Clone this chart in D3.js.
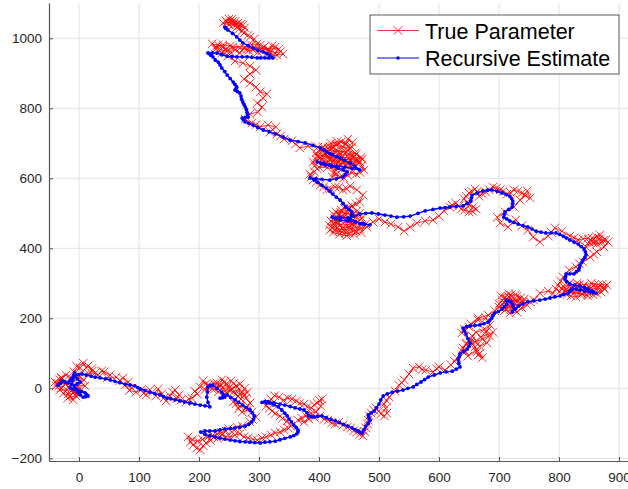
<!DOCTYPE html>
<html>
<head>
<meta charset="utf-8">
<script src="https://cdn.jsdelivr.net/npm/d3@7/dist/d3.min.js"></script>
<style>
  body { margin: 0; background: #fff; }
  svg { display: block; font-family: "Liberation Sans", Arial, sans-serif; }
</style>
</head>
<body>
<div id="chart"></div>
<script>
// Data
const seriesNames = ["True Parameter", "Recursive Estimate"];
const xTicks = [0, 100, 200, 300, 400, 500, 600, 700, 800, 900];
const yTicks = [-200, 0, 200, 400, 600, 800, 1000];

// true parameter path [x, y]
const trueParam = [
  [-32,24],[-38,7],[-28,29],[-36,15],[-22,12],[-30,2],[-32,-5],[-20,-5],[-26,-14],[-15,-22],
  [-10,-33],[-19,-28],[-5,-22],[-13,-7],[-8,-11],[0,-18],[2,1],[-6,9],[10,7],[4,16],
  [8,24],[-1,29],[-2,38],[-14,30],[-22,38],[-30,30],[-40,18],[-34,6],[-26,20],[-18,4],
  [-10,-2],[-4,-14],[-18,-16],[-9,48],[2,58],[-4,63],[7,72],[12,59],[15,64],[21,56],
  [22,49],[16,41],[27,44],[32,38],[38,50],[42,47],
  [52,38],[47,30],[62,32],[68,22],[73,29],[82,18],[77,9],[88,1],[84,-6],[95,-11],
  [103,-5],[108,-14],[112,-19],[118,-4],[122,-11],[128,-22],[132,-2],[138,-16],[142,-27],[145,-36],
  [152,-22],[156,-11],[160,-5],[167,-19],[163,-30],[170,-33],[178,-39],[183,-30],[188,-28],[197,-16],
  [193,-8],
  [202,4],[207,21],[211,12],[215,9],[210,-4],[222,-2],[218,8],[225,14],[230,15],[234,4],
  [238,24],[243,19],[245,12],[249,1],[253,21],[258,14],[262,7],[250,-6],[240,2],[232,-10],
  [226,-2],[236,10],[246,-14],[255,-2],[268,12],[276,0],[280,-12],[268,-18],[267,-2],[257,-11],
  [261,-17],[265,-22],[270,-31],[272,-11],[276,-19],[278,-28],[285,-42],[281,-49],[278,-56],[268,-51],
  [262,-44],[257,-39],[266,-59],[272,-68],[281,-62],[288,-68],[295,-82],[289,-89],[285,-96],
  [272,-108],[264,-111],[258,-119],[249,-115],[245,-122],[237,-127],[230,-131],[222,-136],[215,-139],[206,-146],
  [198,-151],[189,-147],[182,-139],[186,-153],[190,-162],[196,-171],[202,-176],[207,-164],[212,-156],[219,-149],
  [225,-139],[231,-143],[238,-133],[245,-138],[252,-139],[260,-134],[268,-130],[275,-139],[282,-142],[290,-146],
  [297,-148],[305,-142],[312,-139],[320,-133],[327,-128],[335,-125],[342,-119],[349,-114],[353,-108],
  [347,-93],[339,-86],[335,-79],[327,-72],[322,-65],[317,-57],[312,-51],[316,-41],[320,-31],[326,-21],
  [333,-25],[341,-34],[348,-28],[355,-31],[362,-36],[368,-43],[375,-45],[381,-53],[387,-56],[392,-47],
  [397,-42],[401,-35],[405,-31],[403,-51],[395,-68],[387,-71],[378,-79],[371,-85],[365,-91],[375,-96],
  [383,-88],[392,-83],[402,-79],[409,-88],[415,-91],[421,-99],[427,-102],[433,-97],[440,-105],[447,-111],
  [453,-113],[458,-121],[463,-125],[468,-131],[473,-136],[476,-124],[478,-113],[481,-102],[482,-91],[484,-79],
  [487,-71],[491,-62],[495,-56],[499,-66],[503,-73],[509,-79],[513,-71],[511,-57],[508,-45],[513,-35],
  [517,-25],
  [527,-8],[533,9],[538,16],[542,24],[550,41],[557,58],[567,61],[572,54],[578,52],[590,47],
  [596,56],[600,61],[610,52],[620,67],[626,77],[630,87],[638,107],[645,127],[653,135],[660,118],
  [663,104],[665,95],[672,87],[668,99],[662,109],[648,92],[644,105],[640,115],[646,129],[652,141],
  [660,132],[672,140],[684,150],[675,168],[662,160],[655,150],[668,120],[680,130],[690,160],
  [670,147],[676,157],[680,164],[685,181],[678,201],[665,195],[653,184],[642,169],[638,158],[650,175],
  [665,201],[682,209],[693,221],[700,241],
  [705,251],[710,258],[703,264],[716,270],[720,267],[713,255],[728,250],[719,241],[722,229],[714,236],
  [709,222],[726,224],[733,232],[725,245],[736,258],[730,263],[740,246],[732,250],[718,258],[708,246],
  [700,232],[712,226],[724,236],[735,242],[742,255],[728,268],[716,262],[706,240],[718,214],[730,218],
  [738,230],[747,238],[752,247],[758,252],[768,272],
  [782,278],[790,271],[795,284],[801,276],[807,292],[812,282],[818,301],[822,290],[828,284],[834,296],
  [840,289],[846,279],[852,284],[858,294],[865,289],[872,297],[880,295],[876,283],[870,275],[863,271],
  [857,267],[849,271],[842,275],[836,266],[828,261],[820,264],[813,267],[822,278],[830,292],[815,296],
  [826,284],[838,280],[850,290],[862,282],[874,288],[866,296],[854,300],[842,295],[830,300],[820,286],
  [810,278],[824,272],[838,270],[848,264],
  [805,284],[798,295],[803,306],[807,318],
  [817,338],[828,347],[834,356],[840,361],[852,375],[858,383],[863,390],[875,404],[882,418],[874,423],
  [868,427],[862,420],[857,415],[845,404],[850,418],[855,429],[862,433],[868,438],[878,424],[871,418],
  [863,412],[855,421],[848,429],[840,427],[832,424],[825,430],[818,435],[805,449],[793,458],[787,446],
  [782,435],[768,418],[757,432],[748,452],[738,464],[728,481],[715,461],[702,472],[697,489],[710,504],
  [725,518],[735,538],
  [747,564],[752,544],[744,551],[738,558],[731,563],[725,567],[719,559],[713,555],[707,563],[702,567],
  [696,572],[690,575],[684,567],[678,561],[672,556],[667,549],[663,561],[660,569],[655,562],[650,558],
  [645,549],[642,541],[647,532],[650,524],[657,518],[662,512],[656,506],[650,504],[643,509],[637,512],
  [633,521],[628,529],[622,523],[618,518],[608,507],[600,492],[590,481],[577,478],[563,472],[552,461],
  [542,449],[532,461],[520,469],[510,475],[500,484],[490,475],[480,461],
  [468,455],[462,449],[457,449],[450,443],[445,444],[438,447],[433,449],[427,454],[422,458],[417,466],
  [424,470],[428,475],[435,481],[440,487],[446,480],[452,473],[458,467],[450,461],[441,459],[435,465],
  [429,490],[434,496],[428,504],[437,509],[442,515],[449,518],[455,521],[448,510],[443,500],[456,497],
  [462,505],[468,500],[462,490],[450,485],[438,492],[426,486],[420,478],[432,470],[444,466],[456,470],
  [466,478],[472,486],[460,494],[448,500],[436,503],[424,497],[430,458],[442,452],[455,457],[467,462],
  [478,470],[470,445],[458,440],[446,436],[434,440],[424,446],[418,452],
  [455,521],[462,527],[468,532],[473,552],
  [463,567],[452,578],[446,570],[440,567],[433,574],[427,575],[419,570],[413,567],[408,576],[402,581],
  [395,588],[390,595],[387,604],[385,612],[392,619],[397,627],[393,636],[390,647],[396,653],[402,658],
  [397,664],[395,672],[401,677],[407,681],[415,686],[423,689],[430,697],[437,704],[444,697],[448,712],
  [456,703],[455,689],[448,680],[462,669],[456,658],[468,647],[471,636],[475,624],[468,617],[462,612],
  [455,616],[448,609],[441,601],[435,604],[428,610],[422,604],[426,618],[430,632],[437,640],[443,649],
  [450,658],[438,660],[432,669],[440,676],[425,676],[418,681],[410,672],[405,664],[416,660],[425,652],
  [412,646],[420,640],[432,645],[445,638],[458,642],[466,650],[452,655],[440,650],[428,658],[415,662],
  [405,655],[398,662],[410,668],[422,664],[436,668],[448,666],[460,672],[470,660],[462,652],[448,644],
  [435,652],[426,646],[418,652],[408,640],[400,632],[414,630],[428,625],[440,630],[452,635],[465,640],
  [472,655],[458,662],[445,675],[430,680],[418,690],[428,695],[440,690],[452,685],[445,700],[430,705],
  [420,700],[407,690],[398,689],
  [382,692],[368,687],[361,698],[355,707],[342,712],[336,721],[330,727],[318,732],[328,747],[315,752],
  [302,747],[295,753],[288,758],[277,769],[285,784],[298,789],[305,804],[297,815],[307,829],[313,841],
  [302,847],[295,861],[285,872],[275,884],[285,898],[295,909],[285,921],[273,929],[260,935],[248,949],
  [238,958],[228,969],[222,984],[232,981],[240,975],[245,969],[252,962],[260,967],[268,958],[275,972],
  [283,965],[290,967],[298,960],[305,964],[312,955],[318,961],[324,950],[330,952],[340,955],[336,962],
  [326,958],[316,966],[304,970],[292,974],[280,968],[268,972],[256,975],[246,962],[236,968],[228,976],
  [240,982],[252,978],
  [333,969],[327,975],[322,978],[315,970],[308,975],[302,980],[297,984],[288,980],[292,998],[285,1003],
  [282,1009],[275,1015],[272,1021],[266,1026],[263,1032],[258,1040],[253,1044],[247,1046],[256,1048],[266,1036],
  [276,1030],[262,1040],[250,1038],[240,1044],[245,1050],[250,1055],
  [255,1055],[260,1048],[265,1044],[270,1040],[273,1038]
];

// recursive estimate path [x, y]
const estimate = [
  [-35,9],[-31,14],[-28,21],[-23,18],[-18,15],[-15,22],[-12,29],[-9,37],[-7,44],[-9,33],
  [-10,24],[-12,12],[-15,1],[-9,-2],[-2,-5],[4,-9],[10,-13],[13,-18],[15,-22],[11,-24],
  [7,-25],[2,-18],[-2,-11],[-5,-2],[-8,7],[-3,13],[2,18],[-3,27],[-7,35],[-1,39],
  [5,41],[12,38],[20,35],[27,32],[35,30],[44,27],[52,24],[60,20],[68,16],[77,12],
  [85,10],[93,7],[98,2],[102,-2],[110,-6],[118,-11],[126,-15],[135,-19],[141,-24],[147,-28],
  [153,-30],[160,-33],[168,-36],[176,-39],[185,-42],[193,-45],[202,-48],[210,-50],[218,-53],[215,-40],
  [213,-25],[214,-10],[215,4],[219,8],[223,9],[230,0],[238,-11],[241,-18],[243,-25],[239,-27],
  [235,-28],[241,-22],[247,-19],[253,-26],[260,-33],[266,-40],[273,-48],[279,-55],[285,-62],[289,-70],
  [292,-79],[291,-88],[288,-96],[283,-103],[277,-108],[268,-111],[260,-113],[252,-115],[243,-116],[235,-119],
  [227,-122],[218,-122],[210,-122],[203,-125],[210,-131],[218,-136],[227,-139],[235,-142],[243,-145],[252,-148],
  [260,-150],[268,-152],[277,-153],[285,-154],[293,-155],[302,-156],[310,-154],[318,-153],[327,-151],[335,-147],
  [343,-143],[352,-139],[358,-135],[363,-130],[365,-124],[365,-119],[362,-112],[358,-105],[354,-96],[350,-88],
  [347,-79],[343,-71],[338,-62],[332,-53],[325,-47],[318,-42],[312,-41],[305,-40],[310,-38],[315,-38],
  [325,-41],[335,-45],[343,-48],[352,-52],[360,-56],[368,-59],[375,-62],[380,-70],[383,-79],[387,-81],
  [392,-82],[398,-80],[405,-79],[412,-84],[420,-89],[427,-93],[434,-98],[441,-103],[448,-108],[455,-113],
  [460,-118],[465,-122],[469,-125],[472,-128],[475,-118],[478,-108],[482,-100],[485,-91],[483,-83],[482,-76],
  [487,-70],[492,-65],[496,-55],[500,-45],[503,-33],[507,-22],[514,-16],[522,-11],[531,-8],[540,-5],
  [548,0],[557,4],[563,11],[570,18],[576,25],[582,32],[592,38],[602,44],[612,47],[622,49],
  [629,55],[635,61],[633,71],[632,81],[634,90],[635,98],[641,105],[647,112],[650,120],[652,129],
  [648,142],[645,155],[642,164],[640,172],[646,176],[652,178],[660,180],[668,181],[675,185],[682,189],
  [685,195],[688,201],[690,208],[693,215],[699,220],[705,226],[709,234],[713,241],[712,252],[716,250],
  [720,247],[723,238],[725,229],[722,218],[727,226],[732,235],[740,241],[748,247],[758,250],[768,252],
  [777,255],[785,258],[793,261],[802,264],[808,268],[815,272],[818,278],[822,284],[829,283],[835,281],
  [843,278],[852,275],[857,274],[862,272],[855,278],[848,284],[842,288],[835,292],[826,295],[818,298],
  [813,305],[810,312],[811,320],[812,327],[818,327],[825,327],[829,333],[833,338],[834,345],[835,352],
  [838,360],[840,367],[843,374],[845,381],[844,390],[842,398],[837,405],[832,412],[825,418],[818,424],
  [812,430],[807,435],[801,440],[795,444],[787,444],[778,444],[770,446],[762,449],[755,455],[748,461],
  [740,465],[732,469],[725,474],[718,478],[713,484],[708,489],[709,497],[710,504],[716,511],[722,518],
  [723,527],[723,535],[721,542],[718,549],[712,554],[705,558],[697,563],[688,567],[681,566],[673,564],
  [664,558],[655,552],[654,544],[653,535],[647,528],[640,521],[629,520],[618,518],[610,516],[602,515],
  [590,511],[577,507],[565,500],[552,492],[541,490],[530,489],[520,492],[510,495],[499,498],[488,501],
  [478,500],[468,498],[458,492],[448,487],[435,488],[422,489],[428,485],[435,481],[447,478],[460,475],
  [472,471],[485,467],[476,469],[468,470],[460,477],[452,484],[454,494],[455,504],[450,511],[445,518],
  [440,528],[435,538],[429,546],[423,555],[418,563],[412,572],[405,580],[398,589],[392,595],[385,601],
  [395,599],[405,597],[418,595],[429,599],[440,604],[444,611],[447,618],[440,624],[432,629],[421,634],
  [410,638],[403,643],[397,647],[407,643],[418,638],[430,635],[443,632],[455,628],[468,624],[460,634],
  [452,644],[443,651],[435,658],[429,662],[423,667],[418,671],[413,675],[408,681],[402,687],[390,694],
  [377,701],[365,705],[352,709],[340,718],[327,727],[317,733],[307,738],[298,745],[290,752],[283,757],
  [277,761],[274,767],[272,772],[277,774],[282,775],[281,782],[280,789],[279,797],[277,804],[275,811],
  [273,818],[271,826],[270,835],[268,844],[264,848],[260,852],[262,857],[263,861],[260,868],[257,875],
  [252,885],[247,895],[243,905],[238,915],[235,924],[232,932],[227,938],[223,947],[219,952],[215,958],
  [222,958],[230,958],[238,953],[247,949],[255,948],[263,947],[272,947],[280,947],[288,946],[297,944],
  [303,944],[310,944],[316,944],[323,944],[318,952],[313,957],[307,961],[298,966],[290,972],[282,979],
  [273,987],[268,995],[263,1004],[256,1014],[248,1024],[245,1028],[243,1032]
];

const width = 628, height = 489;
const plot = { left: 49, right: 628, top: 3, bottom: 461 };

const svg = d3.select("#chart")
    .append("svg")
    .attr("width", width)
    .attr("height", height);

// Scales
const x = d3.scaleLinear().domain([-50, 915]).range([plot.left, plot.right]);
const y = d3.scaleLinear().domain([-207.7, 1100.9]).range([plot.bottom, plot.top]);

// Grid
svg.append("g").selectAll("line")
    .data(xTicks)
    .join("line")
    .attr("x1", d => x(d)).attr("x2", d => x(d))
    .attr("y1", plot.top).attr("y2", plot.bottom)
    .attr("stroke", "#e3e3e3").attr("stroke-width", 1);
svg.append("g").selectAll("line")
    .data(yTicks)
    .join("line")
    .attr("x1", plot.left).attr("x2", plot.right)
    .attr("y1", d => y(d)).attr("y2", d => y(d))
    .attr("stroke", "#e3e3e3").attr("stroke-width", 1);

// Axes (ticks inside, no box)
const xAxis = svg.append("g")
    .attr("transform", `translate(0,${plot.bottom})`)
    .call(d3.axisBottom(x).tickValues(xTicks).tickSizeInner(-4).tickSizeOuter(0).tickPadding(11));
const yAxis = svg.append("g")
    .attr("transform", `translate(${plot.left},0)`)
    .call(d3.axisLeft(y).tickValues(yTicks).tickFormat(d3.format("d"))
        .tickSizeInner(-4).tickSizeOuter(0).tickPadding(7));

[xAxis, yAxis].forEach(g => {
    g.select(".domain").attr("stroke", "#555").attr("stroke-width", 1.2);
    g.selectAll(".tick line").attr("stroke", "#555");
    g.selectAll("text")
        .attr("fill", "#262626")
        .style("font-size", "13.5px")
        .style("font-family", "'Liberation Sans', Arial, sans-serif");
});

// Lines
const line = d3.line().x(d => x(d[0])).y(d => y(d[1]));
const xMark = "M-4.3,-4.3L4.3,4.3M-4.3,4.3L4.3,-4.3";

// True parameter (red, x markers)
svg.append("path")
    .datum(trueParam)
    .attr("d", line)
    .attr("fill", "none")
    .attr("stroke", "#ff0000")
    .attr("stroke-width", 0.8);
svg.append("g").selectAll("path")
    .data(trueParam)
    .join("path")
    .attr("transform", d => `translate(${x(d[0])},${y(d[1])})`)
    .attr("d", xMark)
    .attr("stroke", "#ff0000")
    .attr("stroke-width", 0.8)
    .attr("fill", "none");

// Recursive estimate (blue, dot markers)
svg.append("path")
    .datum(estimate)
    .attr("d", line)
    .attr("fill", "none")
    .attr("stroke", "#0000ff")
    .attr("stroke-width", 1.4);
svg.append("g").selectAll("circle")
    .data(estimate)
    .join("circle")
    .attr("cx", d => x(d[0]))
    .attr("cy", d => y(d[1]))
    .attr("r", 1.9)
    .attr("fill", "#0000ff");

// Legend
const legend = svg.append("g");
legend.append("rect")
    .attr("x", 370).attr("y", 15)
    .attr("width", 249).attr("height", 59)
    .attr("fill", "#fff")
    .attr("stroke", "#333")
    .attr("stroke-width", 0.8);

const legendRows = [
    { name: seriesNames[0], color: "#ff0000", ly: 30.5, ty: 39 },
    { name: seriesNames[1], color: "#0000ff", ly: 58, ty: 66 }
];
legendRows.forEach((r, i) => {
    legend.append("line")
        .attr("x1", 377).attr("x2", 419)
        .attr("y1", r.ly).attr("y2", r.ly)
        .attr("stroke", r.color).attr("stroke-width", i === 0 ? 0.8 : 1.2);
    if (i === 0) {
        legend.append("path")
            .attr("transform", `translate(398,${r.ly})`)
            .attr("d", xMark)
            .attr("stroke", r.color).attr("stroke-width", 0.8);
    } else {
        legend.append("circle")
            .attr("cx", 398).attr("cy", r.ly).attr("r", 1.7)
            .attr("fill", r.color);
    }
    legend.append("text")
        .attr("x", 425).attr("y", r.ty)
        .attr("fill", "#000")
        .style("font-size", "21.5px")
        .text(r.name);
});
</script>
</body>
</html>
